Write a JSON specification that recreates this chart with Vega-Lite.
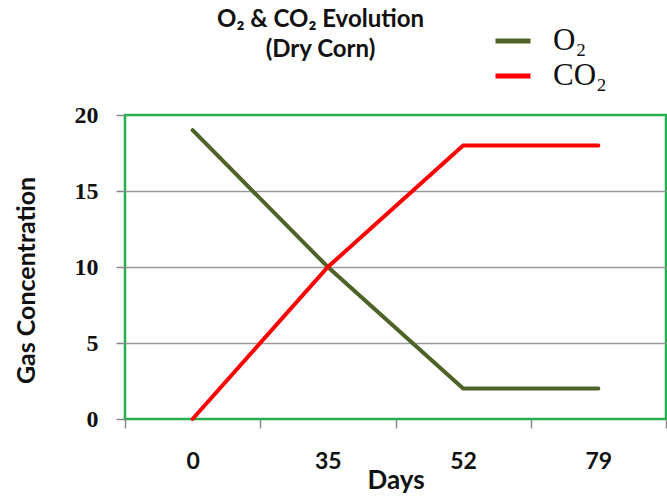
{
  "$schema": "https://vega.github.io/schema/vega-lite/v6.json",
  "width": 541,
  "height": 304,
  "autosize": "none",
  "padding": {"left": 125, "top": 115, "right": 1, "bottom": 80},
  "background": "white",
  "config": {
    "view": {"stroke": "#22B14C", "strokeWidth": 2.5}
  },
  "title": {
    "text": ["O₂ & CO₂ Evolution", "(Dry Corn)"],
    "font": "Lato",
    "fontSize": 24,
    "fontWeight": "bold",
    "color": "#111111",
    "anchor": "middle",
    "frame": "group",
    "dx": -75,
    "baseline": "top",
    "offset": 0,
    "dy": 41,
    "lineHeight": 30
  },
  "data": {
    "values": [
      {"day": "0", "gas": "O₂", "value": 19},
      {"day": "35", "gas": "O₂", "value": 10},
      {"day": "52", "gas": "O₂", "value": 2},
      {"day": "79", "gas": "O₂", "value": 2},
      {"day": "0", "gas": "CO₂", "value": 0},
      {"day": "35", "gas": "CO₂", "value": 10},
      {"day": "52", "gas": "CO₂", "value": 18},
      {"day": "79", "gas": "CO₂", "value": 18}
    ]
  },
  "mark": {"type": "line", "strokeWidth": 4, "strokeCap": "round"},
  "encoding": {
    "x": {
      "field": "day",
      "type": "ordinal",
      "bandPosition": 0.5,
      "sort": ["0", "35", "52", "79"],
      "scale": {"type": "band", "paddingInner": 0, "paddingOuter": 0},
      "axis": {
        "title": "Days",
        "titleFont": "Lato",
        "titleFontSize": 26,
        "titleFontWeight": "bold",
        "titleColor": "#111111",
        "titlePadding": 0,
        "titleY": 48,
        "titleBaseline": "top",
        "labelAngle": 0,
        "labelFont": "Lato",
        "labelFontSize": 23,
        "labelFontWeight": "bold",
        "labelColor": "#111111",
        "labelPadding": 22,
        "tickBand": "extent",
        "tickColor": "#888888",
        "tickWidth": 1.5,
        "tickSize": 9,
        "domain": false,
        "grid": false
      }
    },
    "y": {
      "field": "value",
      "type": "quantitative",
      "scale": {"domain": [0, 20], "nice": false},
      "axis": {
        "title": "Gas Concentration",
        "titleFont": "Lato",
        "titleFontSize": 25,
        "titleFontWeight": "bold",
        "titleColor": "#111111",
        "titleX": -99,
        "titleY": 165,
        "titleAlign": "center",
        "titleBaseline": "middle",
        "titleAngle": -90,
        "values": [0, 5, 10, 15, 20],
        "labelFont": "Liberation Serif",
        "labelFontSize": 24,
        "labelFontWeight": "bold",
        "labelColor": "#111111",
        "labelPadding": 18,
        "tickColor": "#888888",
        "tickWidth": 1.5,
        "tickSize": 9,
        "domain": false,
        "grid": true,
        "gridColor": "#999999",
        "gridWidth": 1.5,
        "gridOpacity": {"condition": {"test": "datum.value == 0 || datum.value == 20", "value": 0}, "value": 1}
      }
    },
    "color": {
      "field": "gas",
      "type": "nominal",
      "scale": {"domain": ["O₂", "CO₂"], "range": ["#4F6228", "#FF0000"]},
      "legend": {
        "title": null,
        "orient": "none",
        "legendX": 368,
        "legendY": -94,
        "padding": 0,
        "columns": 1,
        "symbolType": "stroke",
        "symbolStrokeWidth": 5,
        "symbolSize": 1225,
        "labelFont": "Liberation Serif",
        "labelFontSize": 31,
        "labelColor": "#111111",
        "labelOffset": 20,
        "rowPadding": 0
      }
    }
  }
}
